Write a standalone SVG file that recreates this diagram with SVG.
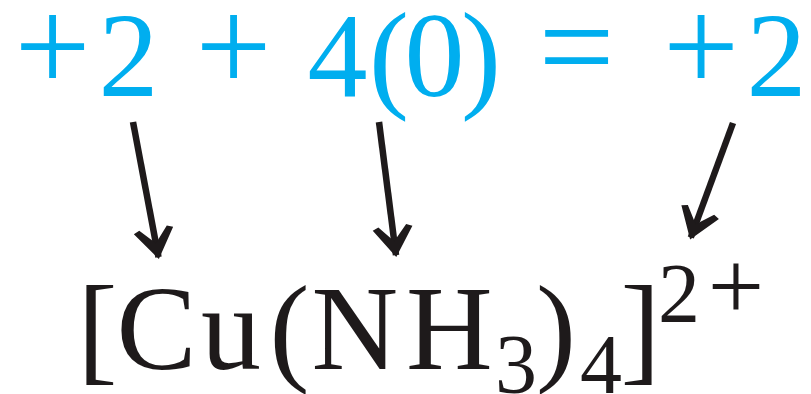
<svg xmlns="http://www.w3.org/2000/svg" width="811" height="394" viewBox="0 0 811 394">
  <style>
    .eq { font-family: "Liberation Serif", "Times New Roman", serif; font-size: 120px; fill: #00AEEF; }
    .eq .big { font-size: 135px; }
    .formula { font-family: "Liberation Serif", "Times New Roman", serif; font-size: 120px; fill: #1e1a1b; }
    .formula .sub, .formula .sup { font-size: 84px; }
    .formula .supplus { font-size: 100px; }
    .arrow { fill: none; stroke: #1e1a1b; stroke-width: 6.5; stroke-linecap: butt; }
  </style>
  <defs>
    <marker id="head" markerUnits="userSpaceOnUse" viewBox="-32 -22 38 44" markerWidth="38" markerHeight="44" refX="0" refY="0" orient="auto">
      <path d="M2,0 L-27,-20 L-29.5,-14 L-14,0 L-29.5,14 L-27,20 Z" fill="#1e1a1b"/>
    </marker>
  </defs>
  <rect width="811" height="394" fill="#ffffff"/>

  <g id="equation">
    <text class="eq"><tspan class="big" x="14.5" y="92">+</tspan><tspan x="98.5" y="96">2 </tspan><tspan class="big" x="195.5" y="92">+ </tspan><tspan x="307.5" y="96">4</tspan><tspan x="369" y="96">(</tspan><tspan x="404.5" y="96">0</tspan><tspan x="461" y="96">) </tspan><tspan class="big" x="538.5" y="92">= </tspan><tspan class="big" x="663" y="92">+</tspan><tspan x="746.5" y="96">2</tspan></text>
  </g>

  <g id="complex">
    <text class="formula"><tspan x="77.5" y="369">[</tspan><tspan x="116.6" y="369">C</tspan><tspan x="201" y="369">u</tspan><tspan x="269.5" y="369">(</tspan><tspan x="311.5" y="369">N</tspan><tspan x="406" y="369">H</tspan><tspan class="sub" x="495" y="393">3</tspan><tspan x="536" y="369">)</tspan><tspan class="sub" x="580" y="393">4</tspan><tspan x="620.5" y="369">]</tspan><tspan class="sup" x="658" y="322">2</tspan><tspan class="supplus" x="707.8" y="320">+</tspan></text>
  </g>

  <g id="connectors">
    <path class="arrow" d="M133,122 L158.5,257.1" marker-end="url(#head)"/>
    <path class="arrow" d="M379,122 L396,255.1" marker-end="url(#head)"/>
    <path class="arrow" d="M733,123 L690.8,237.5" marker-end="url(#head)"/>
  </g>
</svg>
